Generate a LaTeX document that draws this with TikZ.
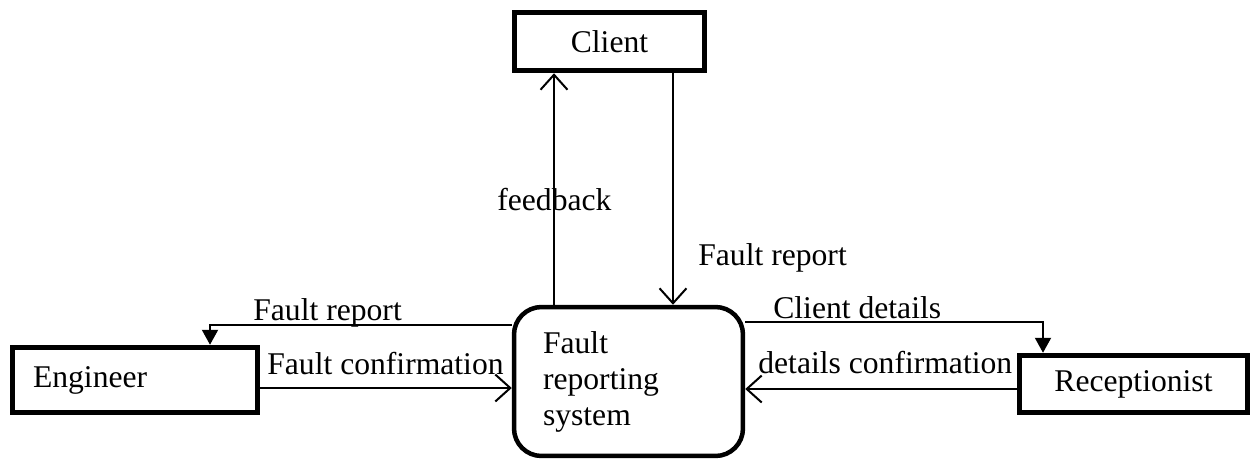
\documentclass[tikz,border=0pt]{standalone}
\usepackage{fontspec}
\setmainfont{Liberation Serif}
\usetikzlibrary{arrows.meta}

\begin{document}
\begin{tikzpicture}[x=0.02cm,y=-0.02cm,every node/.style={font=\fontsize{18}{20.5}\selectfont}]
\tikzset{
  entity/.style={draw, line width=0.11cm, inner sep=0},
  process/.style={draw, line width=0.09cm, rounded corners=0.55cm, align=left,
    text width=3.42cm, minimum width=4.58cm, minimum height=2.98cm},
  flow/.style={line width=0.04cm, -{Straight Barb[length=3mm,width=5.4mm]}},
  flowfilled/.style={line width=0.04cm, -{Triangle[length=3mm,width=3.2mm]}},
  lbl/.style={inner sep=0, anchor=base west}
}
\useasboundingbox (0,0) rectangle (1255,460);
% external entities and the process
\node[entity, minimum width=3.8cm, minimum height=1.16cm] (client) at (609.5,41.5) {Client};
\node[entity, minimum width=4.9cm, minimum height=1.3cm, text width=4.08cm, align=left] (engineer) at (135,380) {Engineer};
\node[entity, minimum width=4.56cm, minimum height=1.14cm] (receptionist) at (1133.5,384) {Receptionist};
\node[process] (frs) at (628.5,381.5) {Fault\\reporting\\system};
% bends and offsets of the flows
\coordinate (fbx) at (554,0);
\coordinate (frx) at (673,0);
\coordinate (engbend) at (210,325);
\coordinate (recbend) at (1043,322);
\coordinate (fcy) at (0,388);
\coordinate (dcy) at (0,389);
% data flows
\draw[flow] (frs.north -| fbx) -- (client.south -| fbx);
\draw[flow] (client.south -| frx) -- (frs.north -| frx);
\draw[flowfilled] (frs.west |- engbend) -- (engbend) -- (engineer.north -| engbend);
\draw[flow] (engineer.east |- fcy) -- (frs.west |- fcy);
\draw[flowfilled] (frs.east |- recbend) -- (recbend) -- (receptionist.north -| recbend);
\draw[flow] (receptionist.west |- dcy) -- (frs.east |- dcy);
% flow labels
\node[lbl] (fblbl) at (497,210) {feedback};
\node[lbl] (frlbl) at (698,265) {Fault report};
\node[lbl] (erlbl) at (253,320) {Fault report};
\node[lbl] (fclbl) at (267,374) {Fault confirmation};
\node[lbl] (cdlbl) at (773,318) {Client details};
\node[lbl] (dclbl) at (758,373) {details confirmation};
\end{tikzpicture}
\end{document}
